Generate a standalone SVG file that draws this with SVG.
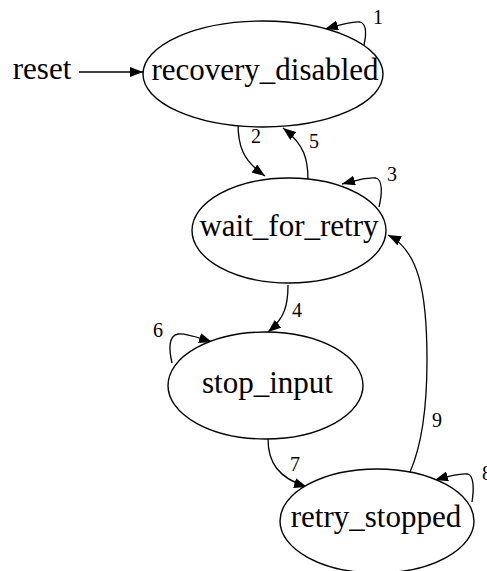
<svg xmlns="http://www.w3.org/2000/svg" width="487" height="571" viewBox="0 0 487 571">
<style>
.node ellipse{fill:#fff;stroke:#000;stroke-width:1.4}
.nl{font-family:"Liberation Serif",serif;font-size:31px;text-anchor:middle;fill:#000}
.el{font-family:"Liberation Serif",serif;font-size:20px;fill:#000}
.edges path{fill:none;stroke:#000;stroke-width:1.3;marker-end:url(#ah)}
</style>
<defs>
<marker id="ah" viewBox="0 0 13 10" refX="13" refY="5" markerWidth="13" markerHeight="10" markerUnits="userSpaceOnUse" orient="auto">
<path d="M0,0 L13,5 L0,10 z" fill="#000"/>
</marker>
</defs>
<rect width="487" height="571" fill="#fff"/>
<g class="edges">
<path d="M79,72 L143,72"/>
<path d="M364,45 C366,36 367,24 360,22 C355,21 346,23 325,29"/>
<path d="M238,123 C238,145 242,160 265,176"/>
<path d="M308,180 C308,160 305,145 283,128"/>
<path d="M379,207 C382,195 383,180 376,178 C370,177 360,179 342,184"/>
<path d="M288,285 C288,305 285,318 268,332"/>
<path d="M172,363 C169,350 168,336 178,334 C186,333 196,337 212,342"/>
<path d="M268,439 C268,462 278,478 307,487"/>
<path d="M410,472 C422,445 427,410 427,360 C427,290 418,250 388,235"/>
<path d="M472,502 C474,490 474,476 468,474 C462,473 452,475 435,480"/>
<text class="el" x="373" y="24">1</text>
<text class="el" x="251" y="143">2</text>
<text class="el" x="387" y="181">3</text>
<text class="el" x="309" y="148">5</text>
<text class="el" x="292" y="317">4</text>
<text class="el" x="153" y="337">6</text>
<text class="el" x="290" y="471">7</text>
<text class="el" x="482" y="480">8</text>
<text class="el" x="432" y="427">9</text>
</g>
<g id="reset"><text class="nl" x="42" y="79">reset</text></g>
<g id="recovery_disabled" class="node"><ellipse cx="263" cy="74" rx="120" ry="53"/><text class="nl" x="265" y="80">recovery_disabled</text></g>
<g id="wait_for_retry" class="node"><ellipse cx="289" cy="230.5" rx="97" ry="52.5"/><text class="nl" x="289" y="236">wait_for_retry</text></g>
<g id="stop_input" class="node"><ellipse cx="265.5" cy="385.5" rx="97.5" ry="53.5"/><text class="nl" x="267.5" y="393">stop_input</text></g>
<g id="retry_stopped" class="node"><ellipse cx="377" cy="521" rx="97" ry="52"/><text class="nl" x="376" y="527">retry_stopped</text></g>
</svg>
